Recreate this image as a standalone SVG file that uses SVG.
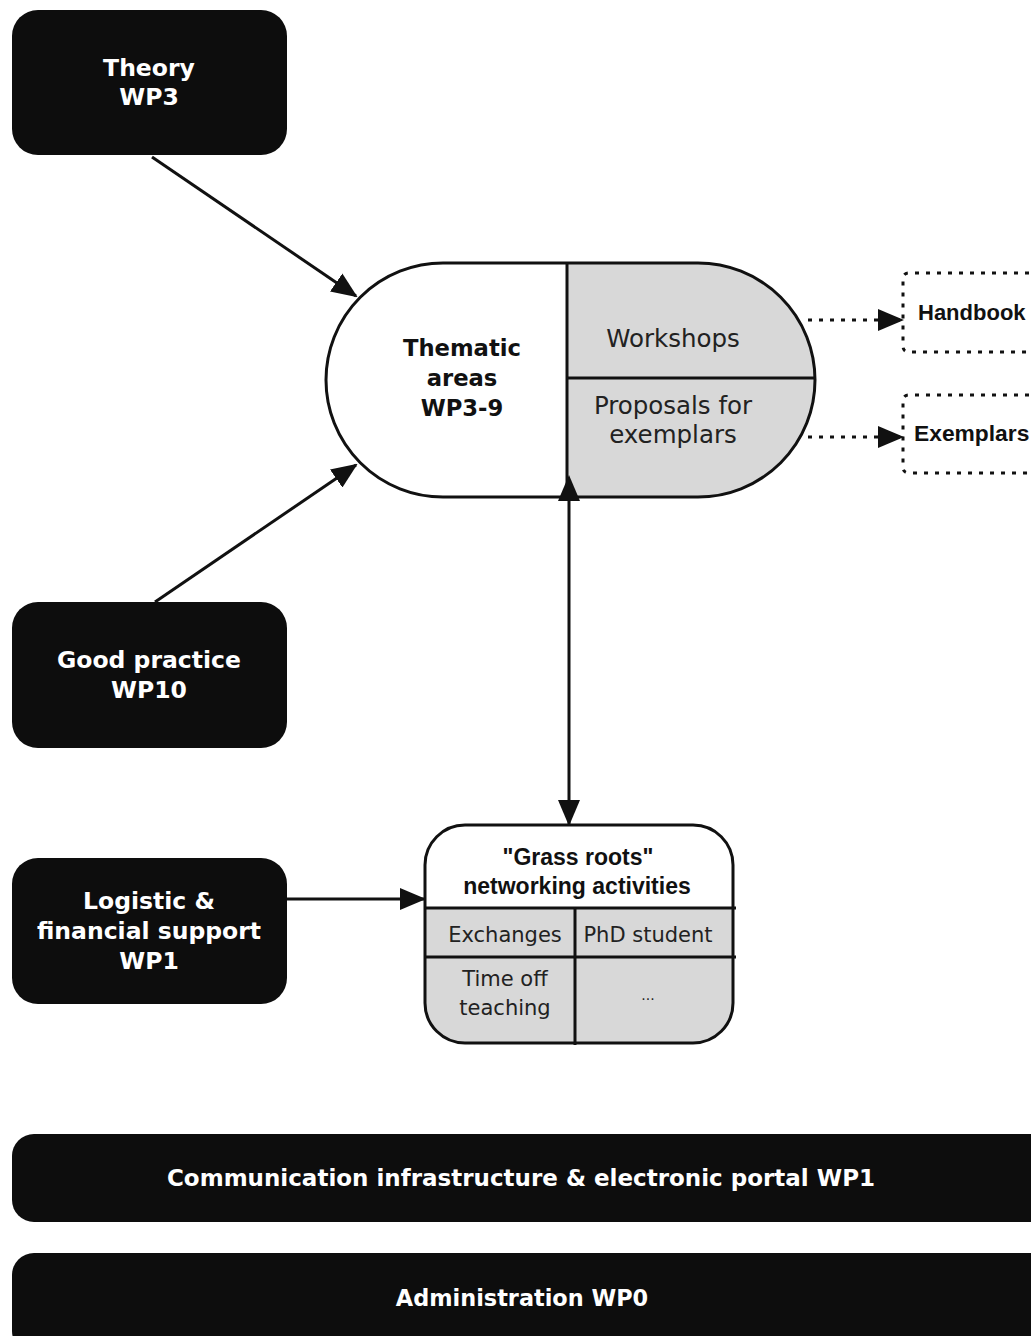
<svg xmlns="http://www.w3.org/2000/svg" width="1031" height="1336" viewBox="0 0 1031 1336">
<defs>
<style>
.blk{fill:#0d0d0d;}
.wt{fill:#fff;font-family:"DejaVu Sans",Verdana,sans-serif;font-weight:bold;font-size:23.5px;text-anchor:middle;}
.bt{fill:#111;font-family:"DejaVu Sans",Verdana,sans-serif;font-weight:bold;font-size:22.7px;text-anchor:middle;}
.rt{fill:#222;font-family:"DejaVu Sans",Verdana,sans-serif;font-size:24.5px;text-anchor:middle;}
.st{fill:#222;font-family:"DejaVu Sans",Verdana,sans-serif;font-size:21px;text-anchor:middle;}
.ab{fill:#111;font-family:"Liberation Sans",Arial,sans-serif;font-weight:bold;font-size:22px;}
.ln{stroke:#111;stroke-width:3;fill:none;}
.dot{stroke:#111;stroke-width:3;fill:none;stroke-dasharray:4 7;}
</style>
<marker id="ah" markerUnits="userSpaceOnUse" markerWidth="26" markerHeight="22" refX="24" refY="11" orient="auto">
<path d="M0,0 L26,11 L0,22 Z" fill="#111"/>
</marker>
<marker id="ahs" markerUnits="userSpaceOnUse" markerWidth="26" markerHeight="22" refX="2" refY="11" orient="auto-start-reverse">
<path d="M0,0 L26,11 L0,22 Z" fill="#111"/>
</marker>
</defs>

<g id="theory">
<rect class="blk" x="12" y="10" width="275" height="145" rx="26"/>
<text class="wt" x="149" y="76">Theory</text>
<text class="wt" x="149" y="105">WP3</text>
</g>

<g id="goodpractice">
<rect class="blk" x="12" y="602" width="275" height="146" rx="26"/>
<text class="wt" x="149" y="668">Good practice</text>
<text class="wt" x="149" y="698">WP10</text>
</g>

<g id="logistic">
<rect class="blk" x="12" y="858" width="275" height="146" rx="26"/>
<text class="wt" x="149" y="909">Logistic &amp;</text>
<text class="wt" x="149" y="939">financial support</text>
<text class="wt" x="149" y="969">WP1</text>
</g>

<g id="thematic">
<path d="M443,263 H698 A117,117 0 0 1 698,497 H443 A117,117 0 0 1 443,263 Z" fill="#fff"/>
<path d="M567,263 H698 A117,117 0 0 1 698,497 H567 Z" fill="#d8d8d8"/>
<path class="ln" d="M443,263 H698 A117,117 0 0 1 698,497 H443 A117,117 0 0 1 443,263 Z"/>
<line class="ln" x1="567" y1="263" x2="567" y2="497"/>
<line class="ln" x1="567" y1="378" x2="815" y2="378"/>
<text class="bt" x="462" y="356">Thematic</text>
<text class="bt" x="462" y="386">areas</text>
<text class="bt" x="462" y="416">WP3-9</text>
<text class="rt" x="673" y="347">Workshops</text>
<text class="rt" x="673" y="414">Proposals for</text>
<text class="rt" x="673" y="443">exemplars</text>
</g>

<g id="handbook">
<path class="dot" d="M1040,273 H909 Q903,273 903,279 V346 Q903,352 909,352 H1040"/>
<text class="ab" x="918" y="320">Handbook</text>
</g>

<g id="exemplars">
<path class="dot" d="M1040,395 H909 Q903,395 903,401 V467 Q903,473 909,473 H1040"/>
<text class="ab" x="914" y="441" style="font-size:22.8px">Exemplars</text>
</g>

<g id="grassroots">
<clipPath id="gc"><rect x="425" y="825" width="308" height="218" rx="40"/></clipPath>
<rect x="425" y="825" width="308" height="218" rx="40" fill="#fff"/>
<rect x="420" y="908" width="320" height="140" fill="#d8d8d8" clip-path="url(#gc)"/>
<rect class="ln" x="425" y="825" width="308" height="218" rx="40"/>
<line class="ln" x1="425" y1="908" x2="736" y2="908"/>
<line class="ln" x1="425" y1="957" x2="736" y2="957"/>
<line class="ln" x1="575" y1="908" x2="575" y2="1045"/>
<text class="ab" x="578" y="865" style="text-anchor:middle;font-size:23px">"Grass roots"</text>
<text class="ab" x="577" y="894" style="text-anchor:middle;font-size:23px">networking activities</text>
<text class="st" x="505" y="942">Exchanges</text>
<text class="st" x="648" y="942">PhD student</text>
<text class="st" x="505" y="986">Time off</text>
<text class="st" x="505" y="1015">teaching</text>
<text class="st" x="648" y="1000" style="font-size:14px">...</text>
</g>

<g id="communication">
<rect class="blk" x="12" y="1134" width="1040" height="88" rx="22"/>
<text class="wt" x="521" y="1186" style="font-size:23px">Communication infrastructure &amp; electronic portal WP1</text>
</g>

<g id="administration">
<rect class="blk" x="12" y="1253" width="1040" height="100" rx="22"/>
<text class="wt" x="522" y="1306" style="font-size:22.4px">Administration WP0</text>
</g>

<g id="connectors">
<line class="ln" x1="152" y1="157" x2="356" y2="296" marker-end="url(#ah)"/>
<line class="ln" x1="155" y1="602" x2="356" y2="465" marker-end="url(#ah)"/>
<line class="ln" x1="569" y1="499" x2="569" y2="824" marker-start="url(#ahs)" marker-end="url(#ah)"/>
<line class="ln" x1="287" y1="899" x2="424" y2="899" marker-end="url(#ah)"/>
<line class="dot" x1="808" y1="320" x2="902" y2="320" marker-end="url(#ah)"/>
<line class="dot" x1="808" y1="437" x2="902" y2="437" marker-end="url(#ah)"/>
</g>
</svg>
